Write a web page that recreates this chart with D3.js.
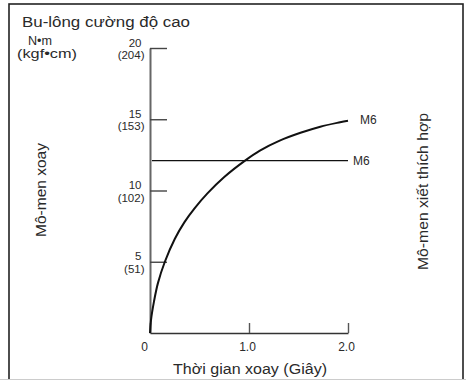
<!DOCTYPE html>
<html><head><meta charset="utf-8">
<script src="https://cdn.jsdelivr.net/npm/d3@7"></script>
<style>body{margin:0;background:#fff}svg{display:block;font-family:"Liberation Sans",Arial,sans-serif}</style>
</head><body>
<svg id="c" width="466" height="380"></svg>
<script>
const title = "Bu-lông cường độ cao";
const unitTop = "N•m";
const unitBottom = "(kgf•cm)";
const yLabel = "Mô-men xoay";
const yLabelRight = "Mô-men xiết thích hợp";
const xLabel = "Thời gian xoay (Giây)";
const yTicks = [5, 10, 15, 20];
const yTickKgf = ["(51)", "(102)", "(153)", "(204)"];
const xTicks = [0, 1.0, 2.0];
const xTickLabels = ["0", "1.0", "2.0"];
const curveTime = [0, 0.01, 0.04, 0.08, 0.15, 0.25, 0.35, 0.45, 0.58, 0.75, 0.96, 1.11, 1.31, 1.52, 1.72, 1.92, 2.0];
const curveTorque = [0, 0.9, 2.2, 3.5, 5.0, 6.6, 7.8, 8.75, 9.8, 10.95, 12.1, 12.8, 13.5, 14.05, 14.48, 14.79, 14.9];
const recommendedTorque = 12.1;
const seriesLabel = "M6";

const svg = d3.select("#c");
const x = d3.scaleLinear().domain([0, 2]).range([150, 348]);
const y = d3.scaleLinear().domain([0, 20]).range([333, 48]);
const ink = "#2a2a2a";

function fitText(sel, w) {
  sel.attr("textLength", w).attr("lengthAdjust", "spacingAndGlyphs");
}

// frame
svg.append("rect").attr("x", 9).attr("y", 4).attr("width", 454).attr("height", 390)
  .attr("fill", "none").attr("stroke", "#222").attr("stroke-width", 1.6);
svg.append("line").attr("x1", 0).attr("x2", 466).attr("y1", 379.5).attr("y2", 379.5)
  .attr("stroke", "#ccc").attr("stroke-width", 1);

// title & units
fitText(svg.append("text").attr("x", 22).attr("y", 27).attr("font-size", 14).attr("fill", ink).text(title), 168);
fitText(svg.append("text").attr("x", 28).attr("y", 44.5).attr("font-size", 12).attr("fill", ink).text(unitTop), 24);
fitText(svg.append("text").attr("x", 17).attr("y", 58).attr("font-size", 12).attr("fill", ink).text(unitBottom), 60);

// y axis
const gy = svg.append("g").attr("transform", `translate(${x(0)},0)`)
  .call(d3.axisRight(y).tickValues(yTicks).tickSize(17).tickSizeOuter(0).tickFormat(""));
gy.select(".domain").attr("stroke", "#666").attr("stroke-width", 2);
gy.selectAll(".tick line").attr("stroke", "#444").attr("stroke-width", 1.4);

// y tick labels (two lines each)
yTicks.forEach((v, i) => {
  svg.append("text").attr("font-size", 11.5).attr("fill", ink).attr("text-anchor", "end")
    .attr("x", 141.5).attr("y", y(v) - 1.5).text(v);
  svg.append("text").attr("font-size", 11.5).attr("fill", ink).attr("text-anchor", "end")
    .attr("x", 144.5).attr("y", y(v) + 11).text(yTickKgf[i]);
});

// x axis
const gx = svg.append("g").attr("transform", `translate(0,${y(0)})`)
  .call(d3.axisBottom(x).tickValues(xTicks).tickSize(-10).tickSizeOuter(0).tickPadding(9)
    .tickFormat((d, i) => xTickLabels[i]));
gx.select(".domain").attr("stroke", "#333").attr("stroke-width", 1.6);
gx.selectAll(".tick line").attr("stroke", "#555").attr("stroke-width", 1.4);
gx.selectAll(".tick text").attr("font-size", 12).attr("fill", ink)
  .attr("font-family", "Liberation Sans, Arial, sans-serif")
  .attr("dx", (d, i) => i === 0 ? -6 : -2);

// recommended torque line
svg.append("line").attr("x1", x(0.02)).attr("x2", x(2.0))
  .attr("y1", y(recommendedTorque)).attr("y2", y(recommendedTorque))
  .attr("stroke", "#111").attr("stroke-width", 1.2);
svg.append("text").attr("x", 353).attr("y", y(recommendedTorque) + 4.5)
  .attr("font-size", 12).attr("fill", ink).text(seriesLabel);

// curve
const pts = curveTime.map((t, i) => [t, curveTorque[i]]);
svg.append("path").datum(pts)
  .attr("d", d3.line().x(d => x(d[0])).y(d => y(d[1])).curve(d3.curveCatmullRom.alpha(0.5)))
  .attr("fill", "none").attr("stroke", "#111").attr("stroke-width", 2);
svg.append("text").attr("x", 360).attr("y", y(14.9) + 3.5)
  .attr("font-size", 12).attr("fill", ink).text(seriesLabel);

// axis titles
fitText(svg.append("text").attr("transform", "translate(45.5,190) rotate(-90)")
  .attr("text-anchor", "middle").attr("font-size", 14).attr("fill", ink).text(yLabel), 94);
fitText(svg.append("text").attr("transform", "translate(428,191.5) rotate(-90)")
  .attr("text-anchor", "middle").attr("font-size", 14).attr("fill", ink).text(yLabelRight), 157);
fitText(svg.append("text").attr("x", 250).attr("y", 373.5)
  .attr("text-anchor", "middle").attr("font-size", 14).attr("fill", ink).text(xLabel), 154);
</script>
</body></html>
